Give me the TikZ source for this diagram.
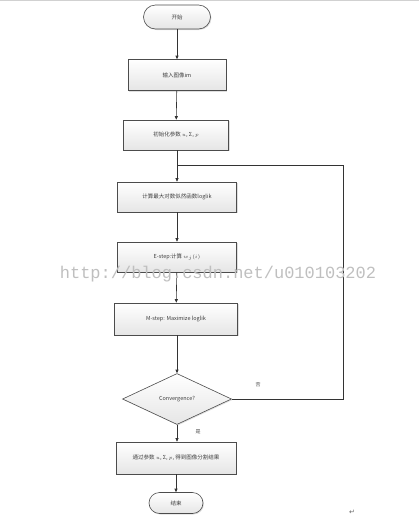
\documentclass[tikz,border=0pt]{standalone}
\usepackage{fontspec}
\setmainfont{Liberation Sans}
\newfontfamily\cjk{Noto Sans CJK SC}
\newfontfamily\wm{Liberation Mono}
\newfontfamily\djv{DejaVu Sans}
\usetikzlibrary{shapes.geometric,arrows.meta,shadows}
\begin{document}
\begin{tikzpicture}[x=1pt,y=-1pt,
  every node/.style={font=\cjk\fontsize{5.5}{6.5}\selectfont, text=black!75},
  base/.style={draw=black!70, line width=0.6pt, top color=white, bottom color=black!10,
     drop shadow={opacity=0.25, shadow xshift=1pt, shadow yshift=-1pt}, inner sep=0pt},
  procbox/.style={base, rectangle},
  termbox/.style={base, rectangle},
  decbox/.style={base, diamond, aspect=2.1},
  conn/.style={draw=black!80, line width=0.6pt},
  arr/.style={conn, -{Triangle[length=3.5pt,width=3pt]}},
  lbl/.style={font=\cjk\fontsize{5}{6}\selectfont, text=black!70}]
\useasboundingbox (0,0) rectangle (419,520);
\draw[black!18, line width=1.2pt] (0,0.6) -- (419,0.6);
\node[termbox, minimum width=67pt, minimum height=24pt, rounded corners=12pt] (s) at (177,17) {开始};
\node[procbox, minimum width=98pt, minimum height=31pt] (b1) at (177,75) {输入图像im};
\node[procbox, minimum width=105pt, minimum height=30pt] (b2) at (176,135) {初始化参数 $u$, Σ, $p$};
\node[procbox, minimum width=119pt, minimum height=30pt] (b3) at (177,197) {计算最大对数似然函数loglik};
\node[procbox, minimum width=119pt, minimum height=30pt] (b4) at (177,257) {E-step:计算 $w_j(i)$};
\node[procbox, minimum width=123pt, minimum height=32pt] (b5) at (176,319) {M-step: Maximize loglik};
\node[decbox, minimum width=109pt, minimum height=51pt] (d) at (177,399) {Convergence?};
\node[procbox, minimum width=120pt, minimum height=32pt] (b6) at (176,458) {通过参数 $u$, Σ, $p$, 得到图像分割结果};
\node[termbox, minimum width=54pt, minimum height=21pt, rounded corners=10.5pt] (e) at (176,503) {结束};
\coordinate (j) at (177,165);
\coordinate (r) at (343,165);
\draw[arr] (s) -- (b1);
\draw[arr] (b1) -- (b2);
\draw[arr] (b2.south -| j) -- (b3.north -| j);
\draw[arr] (b3) -- (b4);
\draw[arr] (b4) -- (b5);
\draw[arr] (b5.south -| d) -- (d);
\draw[arr] (d) -- (b6.north -| d);
\draw[arr] (b6) -- (e);
\draw[conn] (d.east) -| (r) -- (j);
\node[lbl] (no) at (258,385) {否};
\node[lbl] (yes) at (198,432) {是};
\node[font=\djv\fontsize{7}{8}\selectfont, text=black!60] (pm) at (352,512) {↵};
\node[font=\wm\fontsize{17}{18}\selectfont, text=black!25, inner sep=0pt] (w) at (218,274) {http://blog.csdn.net/u010103202};
\end{tikzpicture}
\end{document}
